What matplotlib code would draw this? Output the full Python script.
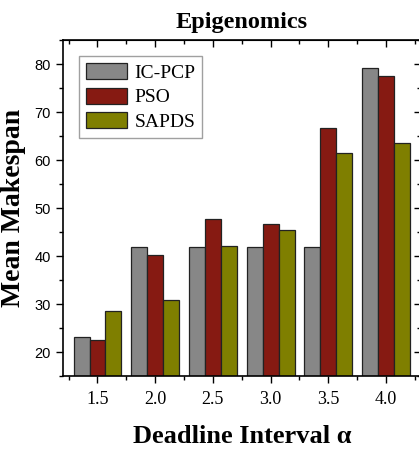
import numpy as np
import matplotlib
matplotlib.use('Agg')
import matplotlib.pyplot as plt
from matplotlib.ticker import MultipleLocator

alphas = [1.5, 2.0, 2.5, 3.0, 3.5, 4.0]
tick_labels = ['1.5', '2.0', '2.5', '3.0', '3.5', '4.0']
ic_pcp = [23.1, 41.8, 41.8, 41.8, 41.8, 79.2]
pso = [22.6, 40.3, 47.7, 46.7, 66.6, 77.5]
sapds = [28.5, 30.8, 42.0, 45.5, 61.4, 63.6]

series = [('IC-PCP', ic_pcp, '#878787'),
          ('PSO', pso, '#861A12'),
          ('SAPDS', sapds, '#7F7F00')]

serif = 'Liberation Serif'
sans = 'Liberation Sans'

fig = plt.figure(figsize=(4.19, 4.5), dpi=100)
ax = fig.add_axes([0.150, 0.1644, 0.854, 0.7467])

w = 0.138
x = np.array(alphas)
for k, (name, vals, col) in enumerate(series):
    ax.bar(x + (k - 1) * w, vals, width=w, color=col, edgecolor='#222222',
           linewidth=0.9, label=name)

ax.set_xlim(1.2, 4.3)
ax.set_ylim(15, 85)

ax.set_xticks(alphas)
ax.set_xticklabels(tick_labels, fontfamily=serif, fontsize=13)
ax.xaxis.set_minor_locator(MultipleLocator(0.25))
ax.yaxis.set_minor_locator(MultipleLocator(5))
ax.set_yticks([20, 30, 40, 50, 60, 70, 80])
for lab in ax.get_yticklabels():
    lab.set_fontfamily(sans)
    lab.set_fontsize(10.5)

ax.tick_params(axis='both', which='major', direction='out', length=5, width=1)
ax.tick_params(axis='both', which='minor', direction='out', length=3, width=1)
ax.tick_params(axis='x', pad=6)

for s in ax.spines.values():
    s.set_linewidth(1.2)

# inward ticks on top and right
top = ax.secondary_xaxis('top')
top.set_xticks(alphas)
top.xaxis.set_minor_locator(MultipleLocator(0.25))
top.tick_params(which='major', direction='in', length=5, width=1, labeltop=False)
top.tick_params(which='minor', direction='in', length=3, width=1)
right = ax.secondary_yaxis('right')
right.set_yticks([20, 30, 40, 50, 60, 70, 80])
right.yaxis.set_minor_locator(MultipleLocator(5))
right.tick_params(which='major', direction='in', length=5, width=1, labelright=False)
right.tick_params(which='minor', direction='in', length=3, width=1)

ax.set_title('Epigenomics', fontfamily=serif, fontweight='bold', fontsize=17.5, pad=9)
ax.set_xlabel('Deadline Interval α', fontfamily=serif, fontweight='bold',
              fontsize=19, labelpad=12)
ax.set_ylabel('Mean Makespan', fontfamily=serif, fontweight='bold',
              fontsize=20, labelpad=6)

leg = ax.legend(loc='upper left', bbox_to_anchor=(0.045, 0.952),
                prop={'family': serif, 'size': 14}, frameon=True, fancybox=False,
                handlelength=2.1, handleheight=0.9, labelspacing=0.3,
                handletextpad=0.4, borderpad=0.35, borderaxespad=0)
leg.get_frame().set_edgecolor('#888888')
leg.get_frame().set_linewidth(1)

fig.savefig('out.png', dpi=100)
